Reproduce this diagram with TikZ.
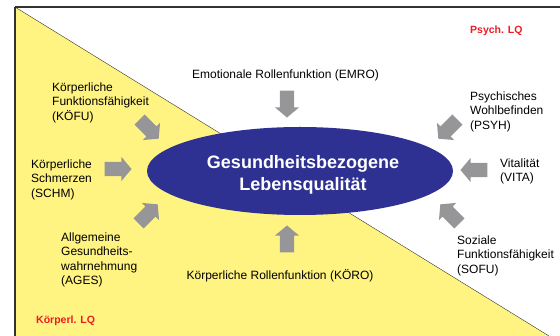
\documentclass[tikz,border=0pt]{standalone}
\usepackage{fontspec}
\setmainfont{Liberation Sans}
\usepackage{tikz}
\usetikzlibrary{shapes.geometric,shapes.arrows}
\definecolor{lqyellow}{RGB}{255,243,130}
\definecolor{lqblue}{RGB}{46,49,146}
\definecolor{lqgray}{RGB}{150,150,152}
\definecolor{lqred}{RGB}{237,28,36}
\definecolor{lqframe}{RGB}{50,50,50}
\tikzstyle{dimtext} = [font=\fontsize{12}{14.5}\selectfont, inner sep=0pt, align=left, anchor=base west]
\tikzstyle{dimtextc} = [font=\fontsize{12}{14.5}\selectfont, inner sep=0pt, anchor=base]
\tikzstyle{lqlabel} = [font=\fontsize{10.5}{12}\selectfont\bfseries, text=lqred, inner sep=0pt, anchor=base west]
\tikzstyle{blockarrow} = [single arrow, fill=lqgray, draw=none, inner xsep=0pt, inner ysep=7pt,
  minimum height=27pt, single arrow head extend=5pt, single arrow tip angle=100]

\begin{document}
\begin{tikzpicture}[x=1pt,y=-1pt]
    \useasboundingbox (0,0) rectangle (560,336);

    % koerperliche / psychische Seite
    \fill[lqyellow] (15,7) -- (549,336) -- (15,336) -- cycle;
    \draw[lqframe,thin] (15,7) -- (549,336);
    \draw[lqframe,line width=1.2pt] (15,7) -- (560,7);
    \draw[lqframe,line width=2pt] (15,7) -- (15,336);

    \node[lqlabel] (psychlq) at (470,34) {Psych. LQ};
    \node[lqlabel] (koerplq) at (36,324) {Körperl. LQ};

    % Mitte
    \node[ellipse, fill=lqblue, minimum width=306pt, minimum height=88pt, inner sep=0pt] (hlq) at (300,171) {};
    \node[text=white, align=center, font=\fontsize{18}{22}\selectfont\bfseries, inner sep=0pt]
          (hlqtext) at ([shift={(3,4)}]hlq.center) {Gesundheitsbezogene\\Lebensqualität};

    % Dimensionen (base = letzte Zeile)
    \node[dimtextc] (emro) at (285.5,78.5) {Emotionale Rollenfunktion (EMRO)};
    \node[dimtextc] (koro) at (280,279.5) {Körperliche Rollenfunktion (KÖRO)};
    \node[dimtext] (kofu) at (52,120.5) {Körperliche\\Funktionsfähigkeit\\(KÖFU)};
    \node[dimtext] (schm) at (31,197.5) {Körperliche\\Schmerzen\\(SCHM)};
    \node[dimtext] (ages) at (61,285) {Allgemeine\\Gesundheits-\\wahrnehmung\\(AGES)};
    \node[dimtext] (psyh) at (470,129.5) {Psychisches\\Wohlbefinden\\(PSYH)};
    \node[dimtext] (vita) at (500,182) {Vitalität\\(VITA)};
    \node[dimtext] (sofu) at (457,273.5) {Soziale\\Funktionsfähigkeit\\(SOFU)};

    % Pfeile
    \node[blockarrow, rotate=-90] (emroarrow) at (287,101) {};
    \node[blockarrow, rotate=90]  (koroarrow) at (287,242) {};
    \node[blockarrow, rotate=-45] (kofuarrow) at (147,127) {};
    \node[blockarrow, rotate=0]   (schmarrow) at (115,169) {};
    \node[blockarrow, rotate=45]  (agesarrow) at (146,216) {};
    \node[blockarrow, rotate=-135] (psyharrow) at (450,127) {};
    \node[blockarrow, rotate=180] (vitaarrow) at (477,170) {};
    \node[blockarrow, rotate=135] (sofuarrow) at (452,216) {};
\end{tikzpicture}
\end{document}
